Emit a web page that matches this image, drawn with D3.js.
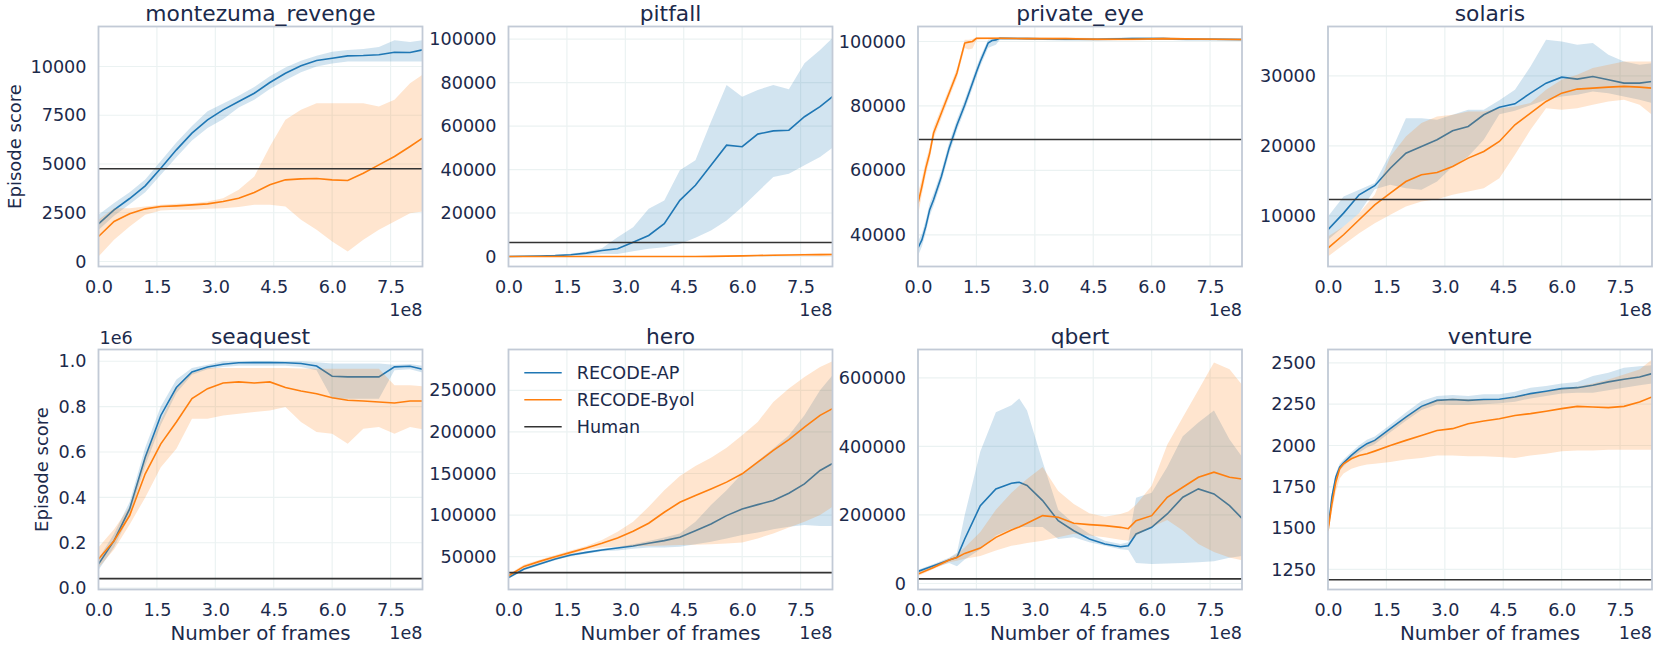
<!DOCTYPE html>
<html>
<head>
<meta charset="utf-8">
<script src="https://cdn.jsdelivr.net/npm/d3@7"></script>
<style>
  body { margin: 0; background: #fff; }
  svg text { font-family: "DejaVu Sans", sans-serif; }
</style>
</head>
<body>
<div id="chart"></div>
<script>
// frames are in units of 1e8
var frames = [0, 0.4, 0.8, 1.2, 1.6, 2.0, 2.4, 2.8, 3.2, 3.6, 4.0, 4.4, 4.8, 5.2, 5.6, 6.0, 6.4, 6.8, 7.2, 7.6, 8.0, 8.32];
var privateEyeFrames = [0, 0.1, 0.2, 0.3, 0.4, 0.6, 0.8, 1.0, 1.2, 1.3, 1.4, 1.5, 1.6, 1.8, 1.9, 2.0, 2.1, 2.8, 3.8, 4.6, 5.5, 6.3, 6.9, 7.6, 8.32];
var qbertFrames = [0, 0.4, 0.8, 1.0, 1.2, 1.6, 2.0, 2.4, 2.6, 2.8, 3.2, 3.6, 4.0, 4.4, 4.8, 5.2, 5.4, 5.6, 6.0, 6.4, 6.8, 7.2, 7.6, 8.0, 8.32];
var ventureFrames = [0, 0.05, 0.1, 0.2, 0.3, 0.4, 0.6, 0.8, 1.0, 1.2, 1.6, 2.0, 2.4, 2.8, 3.2, 3.6, 4.0, 4.4, 4.8, 5.2, 5.6, 6.0, 6.4, 6.8, 7.2, 7.6, 8.0, 8.32];

var gameNames = ["montezuma_revenge", "pitfall", "private_eye", "solaris", "seaquest", "hero", "qbert", "venture"];
var humanScores = [4753, 6464, 69571, 12327, 42055, 30826, 13455, 1188];
var seriesNames = ["RECODE-AP", "RECODE-Byol", "Human"];

// each row: [lower, mean, upper]
var montezumaAP = [[1620,1930,2400],[2350,2650,3000],[2930,3230,3550],[3550,3880,4200],[4450,4785,5150],[5350,5725,6100],[6200,6580,6950],[6850,7263,7700],[7300,7776,8100],[7900,8203,8500],[8300,8630,8950],[8850,9177,9500],[9300,9656,9950],[9700,10032,10300],[10000,10305,10550],[10150,10425,10750],[10250,10545,10850],[10250,10560,10900],[10250,10600,11000],[10250,10730,11350],[10250,10715,11250],[10250,10850,11350]];
var montezumaByol = [[256,1282,2136],[1110,2050,2734],[1800,2450,2734],[2400,2700,2820],[2615,2820,2905],[2650,2854,2957],[2650,2905,2990],[2700,2957,3076],[2734,3076,3247],[2800,3247,3674],[2905,3538,4358],[2905,3931,5896],[2820,4187,7263],[2136,4238,7776],[1624,4255,8118],[1025,4187,8118],[513,4153,8118],[1110,4529,8118],[1624,4956,7947],[2050,5383,8289],[2478,5896,9143],[2564,6323,9570]];

var pitfallAP = [[-200,0,200],[-100,100,300],[0,200,450],[100,400,750],[300,800,1300],[600,1540,2300],[1200,2770,3800],[1200,3540,8900],[2460,6600,13500],[3540,9690,22000],[4300,15070,25800],[5800,25840,39700],[8600,32760,44300],[12000,42000,62000],[16600,51200,78900],[22800,50500,73500],[29700,56300,76600],[36600,57800,78900],[38100,58100,76900],[42000,64300,88900],[45800,68900,95000],[50000,73500,100500]];
var pitfallByol = [[-150,0,150],[-150,0,150],[-150,0,150],[-150,0,150],[-150,0,150],[-150,0,150],[-150,0,150],[-150,0,150],[-150,0,150],[-150,0,150],[-150,0,150],[-150,0,150],[-150,0,150],[-100,50,250],[0,150,400],[100,300,600],[200,450,800],[300,600,1000],[300,700,1200],[300,800,1300],[300,850,1400],[300,900,1500]];

var privateEyeAP = [[33500,35900,38000],[36400,38400,40400],[40600,42600,44600],[45800,47800,49800],[49000,50900,52800],[56300,58100,59900],[65100,66900,68700],[72400,74100,75800],[78700,80300,81900],[82100,83700,85300],[85500,87100,88700],[88900,90500,92100],[92300,93800,95300],[98000,99500,100500],[98500,100300,100800],[99000,100500,101000],[100500,101000,101300],[100600,100900,101200],[100200,100700,101000],[100200,100700,101000],[100600,100900,101300],[100600,100900,101300],[100200,100700,101000],[100200,100700,101000],[100200,100600,100900]];
var privateEyeByol = [[46000,49800,53000],[52500,55000,57500],[58500,60700,63000],[63300,65300,67300],[69800,71600,73400],[76200,77800,79400],[82500,84000,85500],[88700,90200,91700],[98000,99500,100500],[97500,99800,100500],[97800,100000,100800],[100400,101000,101300],[100500,101000,101300],[100600,101000,101300],[100600,101000,101300],[100600,101000,101300],[100600,101000,101300],[100600,100900,101200],[100600,100900,101200],[100200,100700,101100],[100300,100700,101100],[100600,100900,101200],[100500,100800,101100],[100400,100700,101000],[100300,100600,100900]];

var solarisAP = [[6570,8000,9900],[8480,10380,12760],[10380,13000,13710],[13800,14300,14700],[14430,16800,18950],[13950,18950,23950],[13710,19900,23950],[14900,20860,23710],[17050,22140,24430],[18480,22760,25140],[20860,24430,25140],[24500,25500,26500],[25000,26000,28000],[25800,27520,31330],[26570,28950,35140],[27050,29800,34900],[27290,29520,34430],[27760,29900,34670],[27520,29430,33000],[27050,28950,32050],[26570,28950,31570],[26100,29190,31800]];
var solarisByol = [[4190,5380,7050],[5860,7290,8480],[7520,9430,10380],[8950,11570,13000],[10140,13240,18480],[11330,14900,21330],[12050,15860,23240],[12380,16190,24190],[13000,17050,24430],[13480,18240,24900],[13950,19190,24900],[15380,20620,25380],[18710,23000,25620],[22290,24670,26100],[25380,26330,28000],[25140,27520,29430],[25380,28100,30140],[25860,28240,31100],[26330,28380,31570],[26570,28480,32050],[25860,28380,32050],[24430,28240,32050]];

var seaquestAP = [[80000,106000,130000],[180000,209000,240000],[320000,349000,380000],[540000,577000,620000],[720000,761000,800000],[860000,884000,920000],[940000,953000,970000],[965000,975000,985000],[975000,987000,1000000],[980000,993000,1000000],[980000,994000,1001000],[980000,994000,1001000],[980000,993000,1000000],[975000,990000,1000000],[960000,979000,995000],[835000,934000,990000],[835000,931000,990000],[835000,931000,990000],[835000,931000,990000],[960000,975000,985000],[965000,978000,988000],[950000,965000,980000]];
var seaquestByol = [[90000,128000,180000],[170000,209000,260000],[280000,320000,360000],[400000,504000,580000],[533000,636000,740000],[614000,732000,880000],[747000,835000,948000],[747000,879000,970000],[761000,904000,970000],[769000,909000,970000],[776000,904000,970000],[783000,909000,970000],[798000,884000,970000],[732000,869000,968000],[688000,857000,967000],[680000,839000,967000],[636000,828000,967000],[702000,825000,967000],[710000,820000,967000],[680000,816000,894000],[710000,825000,894000],[700000,825000,890000]];

var heroAP = [[23600,25100,26600],[33600,35100,36600],[39700,41200,42700],[45700,47200,48700],[50500,52000,53500],[53700,55200,56700],[56500,58000,59500],[57500,60400,62000],[59500,62900,65000],[61000,66100,69000],[61000,69300,73000],[62000,73300,78000],[65000,81300,92000],[68000,89400,112000],[72000,99400,130000],[76000,107400,150000],[79000,112600,165000],[83000,117500,180000],[86000,126300,196000],[88000,137500,220000],[87000,153600,250000],[87000,162000,268000]];
var heroByol = [[25000,27100,29000],[36000,38400,40500],[42500,44400,46500],[48000,50000,52000],[53000,55200,57500],[58000,60400,63000],[61000,66100,70000],[62000,72500,80000],[62500,80500,92000],[63000,90200,110000],[63500,103400,130000],[64000,115500,147000],[64500,123500,159000],[65000,131500,169000],[66000,139600,181000],[67000,149600,196000],[72000,163700,212000],[78000,177700,236000],[85000,190600,252000],[92000,205800,266000],[100000,219900,278000],[110000,228000,285000]];

var qbertAP = [[30000,35100,40000],[46000,51700,57000],[60000,68300,75000],[50000,76100,90000],[70000,129800,200000],[100000,227300,385000],[140000,276100,500000],[160000,292700,520000],[165000,295600,540000],[165000,285900,505000],[165000,242000,355000],[130000,183400,215000],[135000,154100,175000],[120000,129800,145000],[110000,115100,125000],[100000,107300,115000],[98000,110200,120000],[60000,144400,250000],[57000,163900,265000],[58000,202900,340000],[60000,251700,430000],[62000,276100,470000],[65000,261500,505000],[75000,227300,420000],[80000,190000,370000]];
var qbertByol = [[22000,27300,32000],[42000,46800,52000],[62000,68300,74000],[66000,76000,85000],[72000,87800,105000],[80000,103400,150000],[96000,134600,215000],[110000,156100,265000],[114000,165000,285000],[118000,175600,305000],[125000,198000,340000],[135000,193200,270000],[145000,175600,232000],[140000,171700,205000],[135000,168800,195000],[128000,163900,203000],[125000,160000,210000],[140000,183400,230000],[165000,198000,285000],[185000,251700,405000],[155000,281000,485000],[115000,310200,565000],[92000,324900,645000],[76000,310200,625000],[68000,305000,580000]];

var ventureAP = [[1480,1505,1530],[1560,1586,1612],[1662,1687,1712],[1785,1808,1830],[1848,1869,1890],[1875,1895,1915],[1920,1940,1960],[1958,1980,2002],[1988,2011,2035],[2008,2031,2055],[2080,2102,2125],[2150,2172,2200],[2215,2237,2270],[2248,2273,2300],[2245,2278,2305],[2245,2273,2300],[2250,2278,2310],[2255,2280,2310],[2265,2294,2325],[2285,2314,2350],[2300,2328,2360],[2315,2344,2375],[2320,2350,2385],[2320,2365,2420],[2335,2385,2440],[2350,2401,2470],[2365,2415,2480],[2375,2435,2485]];
var ventureByol = [[1460,1485,1510],[1530,1565,1590],[1600,1646,1670],[1720,1778,1800],[1800,1859,1870],[1830,1889,1895],[1860,1920,1935],[1875,1940,1975],[1885,1950,2005],[1890,1966,2030],[1900,2000,2095],[1915,2031,2170],[1925,2061,2235],[1940,2091,2275],[1940,2102,2285],[1935,2132,2280],[1935,2148,2275],[1930,2162,2275],[1925,2182,2295],[1940,2193,2310],[1950,2207,2325],[1965,2223,2345],[1970,2237,2355],[1970,2233,2375],[1975,2229,2400],[1975,2237,2430],[1975,2263,2460],[1975,2294,2520]];

// axis limits and ticks
var yLimits = [[-256,12050],[-4600,105800],[30160,104650],[2757,37040],[-6000,1051700],[10600,299000],[-17560,683000],[1128.6,2581]];
var yTickValues = [
  [0,2500,5000,7500,10000],
  [0,20000,40000,60000,80000,100000],
  [40000,60000,80000,100000],
  [10000,20000,30000],
  [0,200000,400000,600000,800000,1000000],
  [50000,100000,150000,200000,250000],
  [0,200000,400000,600000],
  [1250,1500,1750,2000,2250,2500]
];
var xTickValues = [0, 1.5, 3.0, 4.5, 6.0, 7.5];
var xMax = 8.32;

var gameFrames = [frames, frames, privateEyeFrames, frames, frames, frames, qbertFrames, ventureFrames];
var apRuns = [montezumaAP, pitfallAP, privateEyeAP, solarisAP, seaquestAP, heroAP, qbertAP, ventureAP];
var byolRuns = [montezumaByol, pitfallByol, privateEyeByol, solarisByol, seaquestByol, heroByol, qbertByol, ventureByol];

var colors = ["#1f77b4", "#ff7f0e", "#333333"];
var textColor = "#1c2a4b";

var width = 1656, height = 648;
var plotLefts = [98.5, 508.5, 918, 1328],
    plotTops = [26.5, 349.5],
    plotW = 324,
    plotH = 240;

var svg = d3.select("#chart").append("svg")
    .attr("width", width)
    .attr("height", height);

gameNames.forEach(function(name, i) {
  var col = i % 4, row = Math.floor(i / 4);
  var g = svg.append("g")
      .attr("transform", "translate(" + plotLefts[col] + "," + plotTops[row] + ")");

  var x = d3.scaleLinear().domain([0, xMax]).range([0, plotW]);
  var y = d3.scaleLinear().domain(yLimits[i]).range([plotH, 0]);

  // grid
  g.selectAll(".vgrid").data(xTickValues).enter().append("line")
      .attr("x1", function(d) { return x(d); }).attr("x2", function(d) { return x(d); })
      .attr("y1", 0).attr("y2", plotH)
      .attr("stroke", "#ebf2f2").attr("stroke-width", 1.2);
  g.selectAll(".hgrid").data(yTickValues[i]).enter().append("line")
      .attr("x1", 0).attr("x2", plotW)
      .attr("y1", function(d) { return y(d); }).attr("y2", function(d) { return y(d); })
      .attr("stroke", "#ebf2f2").attr("stroke-width", 1.2);

  var clipId = "clip" + i;
  g.append("clipPath").attr("id", clipId)
    .append("rect").attr("width", plotW).attr("height", plotH);
  var plot = g.append("g").attr("clip-path", "url(#" + clipId + ")");

  var fr = gameFrames[i];
  [apRuns[i], byolRuns[i]].forEach(function(run, k) {
    var area = d3.area()
        .x(function(d, j) { return x(fr[j]); })
        .y0(function(d) { return y(d[0]); })
        .y1(function(d) { return y(d[2]); });
    var line = d3.line()
        .x(function(d, j) { return x(fr[j]); })
        .y(function(d) { return y(d[1]); });
    plot.append("path").datum(run)
        .attr("d", area)
        .attr("fill", colors[k])
        .attr("fill-opacity", 0.2);
    plot.append("path").datum(run)
        .attr("d", line)
        .attr("fill", "none")
        .attr("stroke", colors[k])
        .attr("stroke-width", 1.6);
  });

  // human baseline
  plot.append("line")
      .attr("x1", 0).attr("x2", plotW)
      .attr("y1", y(humanScores[i])).attr("y2", y(humanScores[i]))
      .attr("stroke", colors[2]).attr("stroke-width", 1.6);

  // frame
  g.append("rect")
      .attr("width", plotW).attr("height", plotH)
      .attr("fill", "none")
      .attr("stroke", "#c2cad6").attr("stroke-width", 1.8);

  // axes
  var xAxis = g.append("g")
      .attr("transform", "translate(0," + plotH + ")")
      .call(d3.axisBottom(x).tickValues(xTickValues).tickSize(0).tickPadding(14)
        .tickFormat(function(d) { return d.toFixed(1); }));
  var yFmt = (name == "seaquest") ? function(d) { return (d / 1e6).toFixed(1); } : function(d) { return d; };
  var yAxis = g.append("g")
      .call(d3.axisLeft(y).tickValues(yTickValues[i]).tickSize(0).tickPadding(12).tickFormat(yFmt));
  [xAxis, yAxis].forEach(function(a) {
    a.select(".domain").remove();
    a.selectAll("text").attr("fill", textColor).style("font-size", "17.6px");
  });

  // title
  g.append("text")
      .attr("x", plotW / 2).attr("y", -13.5)
      .attr("text-anchor", "middle").attr("dominant-baseline", "central")
      .attr("fill", textColor).style("font-size", "21.8px")
      .text(name);

  // offset text
  g.append("text")
      .attr("x", plotW).attr("y", plotH + 43)
      .attr("text-anchor", "end").attr("dominant-baseline", "central")
      .attr("fill", textColor).style("font-size", "17.6px")
      .text("1e8");
  if (name == "seaquest") {
    g.append("text")
        .attr("x", 1).attr("y", -11.5)
        .attr("dominant-baseline", "central")
        .attr("fill", textColor).style("font-size", "17.6px")
        .text("1e6");
  }

  if (col == 0) {
    var lx = (row == 0) ? 14 - plotLefts[0] : 41 - plotLefts[0];
    g.append("text")
        .attr("transform", "translate(" + lx + "," + plotH / 2 + ") rotate(-90)")
        .attr("text-anchor", "middle").attr("dominant-baseline", "central")
        .attr("fill", textColor).style("font-size", "18px")
        .text("Episode score");
  }
  if (row == 1) {
    g.append("text")
        .attr("x", plotW / 2).attr("y", plotH + 43.5)
        .attr("text-anchor", "middle").attr("dominant-baseline", "central")
        .attr("fill", textColor).style("font-size", "19.8px")
        .text("Number of frames");
  }

  // legend in the hero panel
  if (name == "hero") {
    var leg = g.append("g").attr("transform", "translate(15.8,23.2)");
    seriesNames.forEach(function(s, k) {
      leg.append("line")
          .attr("x1", 0).attr("x2", 37.4)
          .attr("y1", k * 27).attr("y2", k * 27)
          .attr("stroke", colors[k]).attr("stroke-width", 1.6);
      leg.append("text")
          .attr("x", 52.4).attr("y", k * 27)
          .attr("dominant-baseline", "central")
          .attr("fill", textColor).style("font-size", "17.6px")
          .text(s);
    });
  }
});
</script>
</body>
</html>
